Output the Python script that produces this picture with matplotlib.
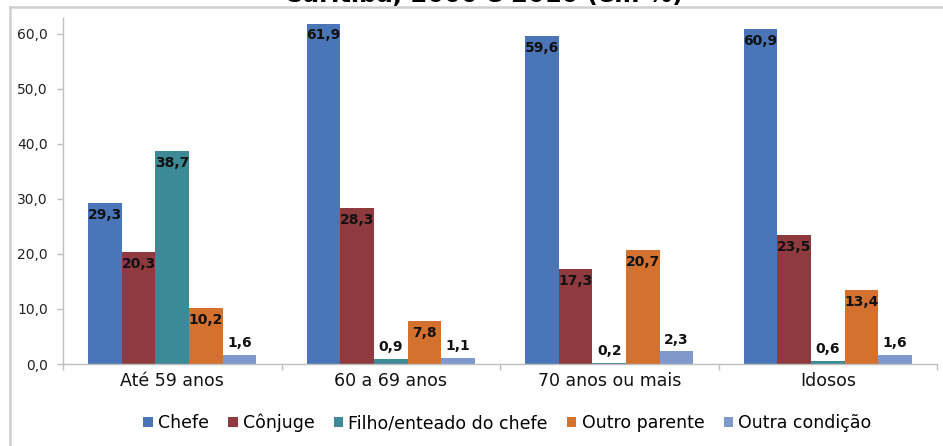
import matplotlib
matplotlib.use("Agg")
import matplotlib.pyplot as plt
import numpy as np
from matplotlib.lines import Line2D

categories = ["Até 59 anos", "60 a 69 anos", "70 anos ou mais", "Idosos"]
series_names = ["Chefe", "Cônjuge", "Filho/enteado do chefe", "Outro parente", "Outra condição"]
chefe = [29.3, 61.9, 59.6, 60.9]
conjuge = [20.3, 28.3, 17.3, 23.5]
filho = [38.7, 0.9, 0.2, 0.6]
outro_parente = [10.2, 7.8, 20.7, 13.4]
outra_condicao = [1.6, 1.1, 2.3, 1.6]
yticks = [0, 10, 20, 30, 40, 50, 60]
title = "Curitiba, 2000 e 2010 (em %)"

series = [chefe, conjuge, filho, outro_parente, outra_condicao]
colors = ["#4a76b8", "#8e3a3e", "#3c8a96", "#d4712e", "#8099cc"]

plt.rcParams["font.family"] = ["DejaVu Sans"]

fig = plt.figure(figsize=(9.43, 4.46), dpi=100)
ax = fig.add_axes([63/943, 1 - 364/446, 874/943, 346/446])

x = np.arange(len(categories))
bw = 0.154
n = len(series)
for i, (vals, name, col) in enumerate(zip(series, series_names, colors)):
    pos = x + (i - (n - 1) / 2) * bw
    bars = ax.bar(pos, vals, width=bw, color=col, label=name, edgecolor="none")
    for b, v in zip(bars, vals):
        lab = f"{v:.1f}".replace(".", ",")
        cx = b.get_x() + b.get_width() / 2
        off = -8.5 if v > 5 else 8.5
        ax.annotate(lab, (cx, v), xytext=(0, off), textcoords="offset points",
                    ha="center", va="center", fontsize=10, fontweight="bold", color="#111111")

ax.set_xlim(-0.5, len(categories) - 0.5)
ax.set_ylim(0, 62.9)
ax.set_yticks(yticks)
ax.set_yticklabels([f"{t:.1f}".replace(".", ",") for t in yticks], fontsize=10, color="#222222")
ax.set_xticks(x)
ax.set_xticklabels(categories, fontsize=12.5, color="#111111")
ax.tick_params(axis="x", which="major", length=0, pad=6)
ax.set_xticks(np.arange(-0.5, len(categories) + 0.5, 1), minor=True)
ax.tick_params(axis="x", which="minor", length=4, color="#bfbfbf", width=1)
ax.tick_params(axis="y", length=4, color="#bfbfbf", width=1, pad=7)
for s in ["top", "right"]:
    ax.spines[s].set_visible(False)
for s in ["left", "bottom"]:
    ax.spines[s].set_color("#bfbfbf")
    ax.spines[s].set_linewidth(1)

fig.legend(loc="center", bbox_to_anchor=(0.538, 1 - 423/446), ncol=5, frameon=False,
           fontsize=12.5, handlelength=0.55, handleheight=0.55, handletextpad=0.3,
           columnspacing=1.1)

fig.text(484/943, 1 - 1.5/446, title, ha="center", va="baseline", fontsize=17.5, fontweight="bold")

fig.add_artist(Line2D([10/943, 10/943], [0, 1 - 7/446], transform=fig.transFigure,
                      color="#cfcfcf", linewidth=1.8))
fig.add_artist(Line2D([10/943, 1], [1 - 7/446, 1 - 7/446], transform=fig.transFigure,
                      color="#cfcfcf", linewidth=1.8))

fig.savefig("out.png", dpi=100)
